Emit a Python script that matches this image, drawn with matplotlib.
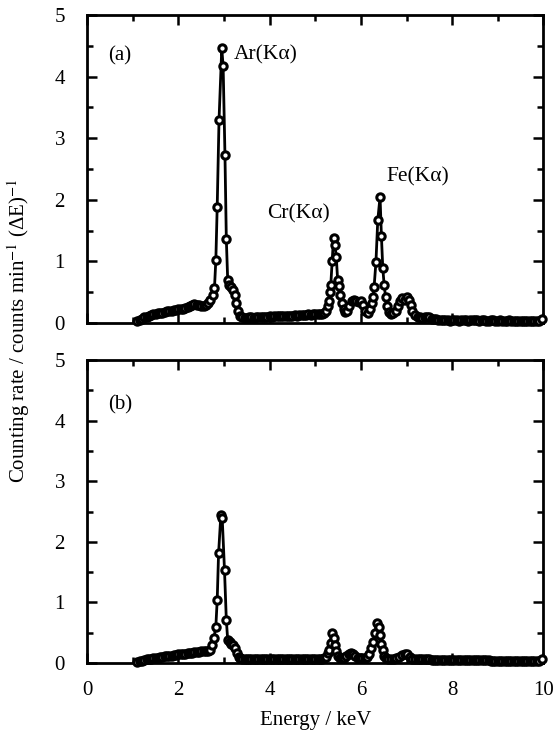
import numpy as np
import matplotlib.pyplot as plt
from matplotlib.ticker import MultipleLocator

plt.rcParams['font.family'] = ['Liberation Serif', 'DejaVu Serif']
plt.rcParams['mathtext.fontset'] = 'stix'

# spectrum (a)
energy_a = [1.10, 1.15, 1.20, 1.25, 1.30, 1.35, 1.40, 1.45, 1.50, 1.55, 1.60, 1.65, 1.70,
            1.75, 1.80, 1.85, 1.90, 1.95, 2.00, 2.05, 2.10, 2.15, 2.20, 2.25, 2.30, 2.35,
            2.40, 2.45, 2.50, 2.55, 2.60, 2.65, 2.70, 2.75,
            2.79, 2.82, 2.85, 2.89, 2.95, 2.98, 3.02, 3.05, 3.08, 3.11, 3.15, 3.19, 3.23,
            3.27, 3.31, 3.35,
            3.40, 3.45, 3.50, 3.55, 3.60, 3.65, 3.70, 3.75, 3.80, 3.85, 3.90, 3.95, 4.00,
            4.05, 4.10, 4.15, 4.20, 4.25, 4.30, 4.35, 4.40, 4.45, 4.50, 4.55, 4.60, 4.65,
            4.70, 4.75, 4.80, 4.85, 4.90, 4.95, 5.00, 5.05, 5.10, 5.15,
            5.20, 5.24, 5.27, 5.30, 5.32, 5.34, 5.37, 5.40, 5.43, 5.46, 5.49, 5.52, 5.55,
            5.58, 5.62, 5.66, 5.70, 5.75, 5.80, 5.85, 5.90, 5.95, 6.00, 6.05, 6.10, 6.15,
            6.20, 6.24, 6.27, 6.29, 6.33, 6.37, 6.42, 6.45, 6.48, 6.51, 6.54, 6.57, 6.61,
            6.66, 6.71, 6.76, 6.81, 6.86, 6.91, 6.96, 7.01, 7.05, 7.09, 7.13, 7.18,
            7.25, 7.30, 7.35, 7.40, 7.45, 7.50, 7.55, 7.60, 7.65, 7.70, 7.75, 7.80, 7.85,
            7.90, 7.95, 8.00, 8.05, 8.10, 8.15, 8.20, 8.25, 8.30, 8.35, 8.40, 8.45, 8.50,
            8.55, 8.60, 8.65, 8.70, 8.75, 8.80, 8.85, 8.90, 8.95, 9.00, 9.05, 9.10, 9.15,
            9.20, 9.25, 9.30, 9.35, 9.40, 9.45, 9.50, 9.55, 9.60, 9.65, 9.70, 9.75, 9.80,
            9.85, 9.90, 9.98]
rate_a = [0.03, 0.05, 0.07, 0.09, 0.10, 0.12, 0.13, 0.14, 0.15, 0.16, 0.17, 0.17, 0.18,
          0.19, 0.20, 0.20, 0.21, 0.21, 0.22, 0.22, 0.23, 0.24, 0.26, 0.28, 0.30, 0.31,
          0.30, 0.29, 0.28, 0.28, 0.30, 0.33, 0.38, 0.45,
          0.57, 1.02, 1.89, 3.30, 4.46, 4.17, 2.73, 1.36, 0.70, 0.62, 0.58, 0.54, 0.45,
          0.32, 0.20, 0.12,
          0.09, 0.08, 0.08, 0.09, 0.09, 0.08, 0.09, 0.10, 0.10, 0.09, 0.10, 0.10, 0.11,
          0.10, 0.11, 0.11, 0.11, 0.12, 0.11, 0.12, 0.12, 0.12, 0.12, 0.13, 0.12, 0.13,
          0.13, 0.13, 0.13, 0.14, 0.13, 0.14, 0.14, 0.14, 0.14, 0.15,
          0.17, 0.20, 0.27, 0.35, 0.50, 0.62, 1.00, 1.38, 1.27, 1.08, 0.70, 0.60, 0.45,
          0.32, 0.22, 0.18, 0.20, 0.28, 0.36, 0.38, 0.36, 0.34, 0.36, 0.30, 0.20, 0.17,
          0.22, 0.32, 0.43, 0.59, 0.99, 1.67, 2.05, 1.41, 0.89, 0.62, 0.43, 0.27, 0.18,
          0.15, 0.16, 0.20, 0.28, 0.36, 0.40, 0.38, 0.42, 0.38, 0.30, 0.20, 0.13,
          0.10, 0.09, 0.08, 0.09, 0.10, 0.09, 0.07, 0.06, 0.06, 0.05, 0.05, 0.05, 0.05,
          0.05, 0.04, 0.05, 0.05, 0.05, 0.04, 0.05, 0.05, 0.05, 0.04, 0.05, 0.05, 0.05,
          0.05, 0.04, 0.05, 0.05, 0.04, 0.04, 0.05, 0.05, 0.04, 0.04, 0.05, 0.04, 0.04,
          0.04, 0.05, 0.04, 0.04, 0.04, 0.04, 0.04, 0.04, 0.04, 0.04, 0.04, 0.04, 0.04,
          0.04, 0.04, 0.06]

# spectrum (b)
energy_b = [1.10, 1.15, 1.20, 1.25, 1.30, 1.35, 1.40, 1.45, 1.50, 1.55, 1.60, 1.65, 1.70,
            1.75, 1.80, 1.85, 1.90, 1.95, 2.00, 2.05, 2.10, 2.15, 2.20, 2.25, 2.30, 2.35,
            2.40, 2.45, 2.50, 2.55, 2.60, 2.65, 2.70,
            2.74, 2.78, 2.82, 2.85, 2.88, 2.93, 2.96, 3.01, 3.05, 3.08, 3.12, 3.16, 3.20,
            3.24, 3.28, 3.32, 3.36,
            3.40, 3.45, 3.50, 3.55, 3.60, 3.65, 3.70, 3.75, 3.80, 3.85, 3.90, 3.95, 4.00,
            4.05, 4.10, 4.15, 4.20, 4.25, 4.30, 4.35, 4.40, 4.45, 4.50, 4.55, 4.60, 4.65,
            4.70, 4.75, 4.80, 4.85, 4.90, 4.95, 5.00, 5.05, 5.10, 5.15,
            5.20, 5.24, 5.28, 5.31, 5.34, 5.37, 5.40, 5.43, 5.46, 5.50, 5.54, 5.58, 5.63,
            5.68, 5.73, 5.78, 5.83, 5.88, 5.93, 5.98, 6.03, 6.08, 6.13, 6.18, 6.23, 6.27,
            6.31, 6.35, 6.39, 6.42, 6.45, 6.48, 6.51, 6.55, 6.60, 6.66, 6.72, 6.78, 6.84,
            6.90, 6.96, 7.02, 7.07, 7.12, 7.18,
            7.25, 7.30, 7.35, 7.40, 7.45, 7.50, 7.55, 7.60, 7.65, 7.70, 7.75, 7.80, 7.85,
            7.90, 7.95, 8.00, 8.05, 8.10, 8.15, 8.20, 8.25, 8.30, 8.35, 8.40, 8.45, 8.50,
            8.55, 8.60, 8.65, 8.70, 8.75, 8.80, 8.85, 8.90, 8.95, 9.00, 9.05, 9.10, 9.15,
            9.20, 9.25, 9.30, 9.35, 9.40, 9.45, 9.50, 9.55, 9.60, 9.65, 9.70, 9.75, 9.80,
            9.85, 9.90, 9.98]
rate_b = [0.02, 0.03, 0.04, 0.05, 0.06, 0.07, 0.07, 0.08, 0.09, 0.09, 0.10, 0.10, 0.11,
          0.11, 0.12, 0.12, 0.13, 0.13, 0.14, 0.14, 0.15, 0.15, 0.16, 0.16, 0.17, 0.18,
          0.18, 0.18, 0.19, 0.19, 0.19, 0.20, 0.22,
          0.30, 0.42, 0.60, 1.04, 1.81, 2.44, 2.39, 1.53, 0.71, 0.38, 0.35, 0.32, 0.30,
          0.25, 0.16, 0.10, 0.08,
          0.07, 0.07, 0.07, 0.07, 0.07, 0.07, 0.07, 0.07, 0.07, 0.07, 0.07, 0.07, 0.07,
          0.07, 0.07, 0.07, 0.07, 0.07, 0.07, 0.07, 0.07, 0.07, 0.07, 0.07, 0.07, 0.07,
          0.07, 0.07, 0.07, 0.07, 0.07, 0.07, 0.07, 0.07, 0.07, 0.07,
          0.08, 0.10, 0.16, 0.22, 0.33, 0.49, 0.41, 0.30, 0.20, 0.12, 0.09, 0.08, 0.09,
          0.12, 0.15, 0.16, 0.15, 0.12, 0.09, 0.08, 0.08, 0.08, 0.10, 0.15, 0.24, 0.35,
          0.50, 0.66, 0.60, 0.46, 0.32, 0.22, 0.12, 0.08, 0.07, 0.07, 0.07, 0.08, 0.10,
          0.13, 0.15, 0.14, 0.10, 0.07, 0.06,
          0.06, 0.06, 0.06, 0.06, 0.06, 0.06, 0.05, 0.05, 0.05, 0.05, 0.05, 0.05, 0.05,
          0.05, 0.05, 0.05, 0.05, 0.05, 0.05, 0.05, 0.05, 0.05, 0.05, 0.05, 0.05, 0.05,
          0.05, 0.05, 0.05, 0.05, 0.05, 0.05, 0.04, 0.04, 0.04, 0.04, 0.04, 0.04, 0.04,
          0.04, 0.04, 0.04, 0.04, 0.04, 0.04, 0.04, 0.04, 0.04, 0.04, 0.04, 0.04, 0.04,
          0.04, 0.04, 0.06]

peak_labels = ['Ar(Kα)', 'Cr(Kα)', 'Fe(Kα)']
peak_label_xy = [(3.22, 4.36), (3.95, 1.78), (6.55, 2.37)]

fig = plt.figure(figsize=(5.59, 7.35), dpi=100)
ax_a = fig.add_axes([0.156, 0.5605, 0.816, 0.419])
ax_b = fig.add_axes([0.156, 0.098, 0.816, 0.412])

for ax, e, r, tag in [(ax_a, energy_a, rate_a, '(a)'), (ax_b, energy_b, rate_b, '(b)')]:
    ax.plot(e, r, '-', color='black', lw=2, marker='o', ms=5.3, mfc='white',
            mec='black', mew=2.2, clip_on=False, zorder=3)
    ax.set_xlim(0, 10)
    ax.set_ylim(0, 5)
    ax.xaxis.set_major_locator(MultipleLocator(2))
    ax.xaxis.set_minor_locator(MultipleLocator(1))
    ax.yaxis.set_major_locator(MultipleLocator(1))
    ax.yaxis.set_minor_locator(MultipleLocator(0.5))
    ax.tick_params(which='both', direction='in', top=True, right=True, width=1.8,
                   labelsize=15)
    ax.tick_params(which='major', length=7)
    ax.tick_params(which='minor', length=4)
    ax.tick_params(axis='y', pad=16)
    ax.tick_params(axis='x', pad=13)
    for s in ax.spines.values():
        s.set_linewidth(2)
    ax.text(0.45, 4.33 if tag == '(a)' else 4.26, tag, fontsize=15, va='center')

ax_a.tick_params(labelbottom=False)
for lab, (x, y) in zip(peak_labels, peak_label_xy):
    ax_a.text(x, y, lab, fontsize=15.5, va='center', ha='left')

ax_b.set_xlabel('Energy / keV', fontsize=15, labelpad=8)
fig.text(0.034, 0.55, 'Counting rate / counts min$^{-1}$ (ΔE)$^{-1}$',
         rotation=90, fontsize=15, va='center', ha='center')

plt.savefig('out.png', dpi=100)
